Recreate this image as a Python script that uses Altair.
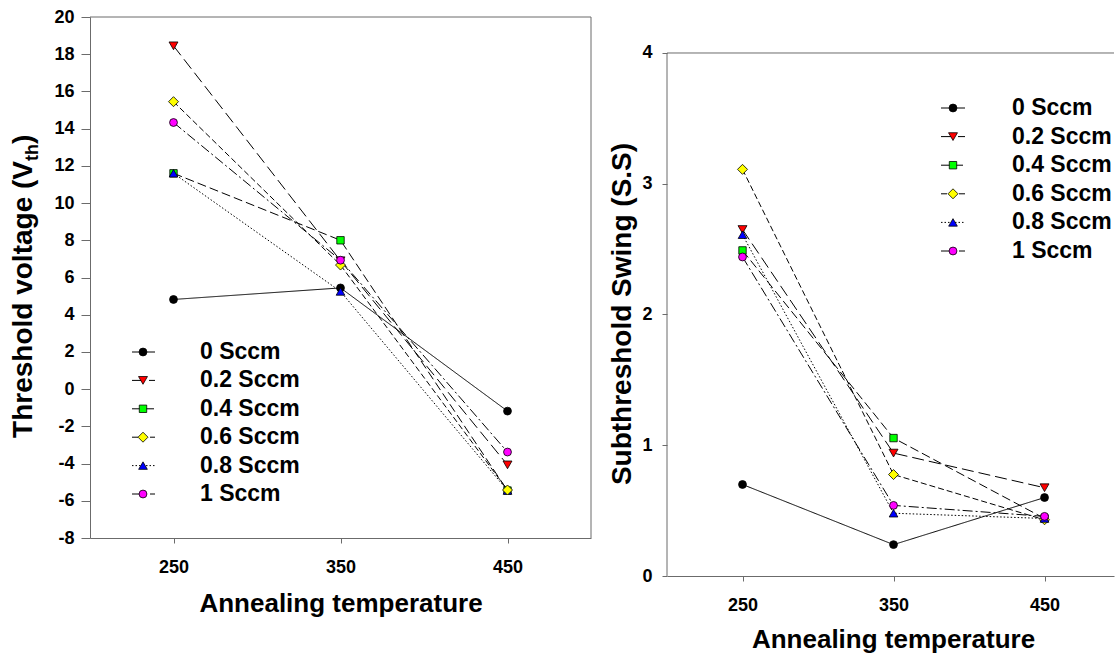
import altair as alt
import pandas as pd

# ---------------- data ----------------
series = ["0 Sccm", "0.2 Sccm", "0.4 Sccm", "0.6 Sccm", "0.8 Sccm", "1 Sccm"]
temps = [250, 350, 450]

vth_0 = [4.82, 5.44, -1.18]
vth_02 = [18.45, 6.9, -4.07]
vth_04 = [11.6, 8.0, -5.45]
vth_06 = [15.45, 6.67, -5.42]
vth_08 = [11.6, 5.25, -5.45]
vth_1 = [14.33, 6.93, -3.38]

ss_0 = [0.70, 0.24, 0.60]
ss_02 = [2.65, 0.94, 0.675]
ss_04 = [2.49, 1.055, 0.44]
ss_06 = [3.11, 0.776, 0.43]
ss_08 = [2.61, 0.48, 0.44]
ss_1 = [2.44, 0.54, 0.456]

vth_ticks = list(range(-8, 21, 2))
ss_ticks = [0, 1, 2, 3, 4]

# ---------------- styles ----------------
fills = ["#000000", "#ff0000", "#00ff00", "#ffff00", "#0000ff", "#ff00ff"]
shapes = ["circle", "triangle-down", "square", "diamond", "triangle-up", "circle"]
sizes = [62, 80, 55, 100, 75, 62]
dashes = [[1, 0], [12, 5], [9, 4], [6, 3], [1.5, 2], [10, 3, 2, 3]]

F = "Liberation Sans"
AX = "#6b6b6b"

vth = [vth_0, vth_02, vth_04, vth_06, vth_08, vth_1]
ss = [ss_0, ss_02, ss_04, ss_06, ss_08, ss_1]
rows = []
for i, s in enumerate(series):
    for j, t in enumerate(temps):
        rows.append({"series": s, "temp": t, "vth": vth[i][j], "ss": ss[i][j], "k": i})
df = pd.DataFrame(rows)
# drawing order of markers on the left panel (yellow diamond on top at 450)
df_l = df.assign(z=[99 if (r.temp == 450 and r.series == "0.6 Sccm") else r.k for r in df.itertuples()])
df_l = df_l.sort_values(["z", "temp"]).reset_index(drop=True)

leg = pd.DataFrame({"series": series, "idx": list(range(len(series)))})
one = pd.DataFrame({"a": [0]})

dash_scale = alt.Scale(domain=series, range=dashes)
fill_scale = alt.Scale(domain=series, range=fills)
shape_scale = alt.Scale(domain=series, range=shapes)
size_scale = alt.Scale(domain=series, range=sizes, type="ordinal")

PT = dict(filled=True, stroke="black", strokeWidth=0.8, opacity=1)


def marker_enc():
    return dict(
        fill=alt.Fill("series:N", scale=fill_scale, legend=None),
        shape=alt.Shape("series:N", scale=shape_scale, legend=None),
        size=alt.Size("series:N", scale=size_scale, legend=None))


def legend_layers(x_rule1, x_rule2, x_sym, x_txt, y0, dy):
    base = alt.Chart(leg).transform_calculate(ly=f"{y0} + datum.idx * {dy}")
    ly = alt.Y("ly:Q", scale=None, axis=None)
    r = base.mark_rule(color="black", strokeWidth=1).encode(
        x=alt.value(x_rule1), x2=alt.value(x_rule2), y=ly,
        strokeDash=alt.StrokeDash("series:N", scale=dash_scale, legend=None))
    p = base.mark_point(**PT).encode(x=alt.value(x_sym), y=ly, **marker_enc())
    t = base.mark_text(align="left", baseline="middle", fontSize=23, fontWeight="bold",
                       font=F, color="black").encode(x=alt.value(x_txt), y=ly, text="series:N")
    return [r, p, t]


def frame_rule(x1, x2, y1, y2):
    return alt.Chart(one).mark_rule(color=AX, strokeWidth=1).encode(
        x=alt.value(x1), x2=alt.value(x2), y=alt.value(y1), y2=alt.value(y2))


title_kw = dict(angle=270, baseline="alphabetic", fontWeight="bold", font=F, color="black")

# ---------------- left panel ----------------
WL, HL = 501, 521
xl = alt.X("temp:Q", scale=alt.Scale(domain=[200, 500], nice=False, zero=False),
           axis=alt.Axis(values=temps, title="Annealing temperature", tickSize=5,
                         labelPadding=15, titlePadding=14, labelExpr="'' + datum.value"))
yl = alt.Y("vth:Q", scale=alt.Scale(domain=[-8, 20], nice=False, zero=False),
           axis=alt.Axis(values=vth_ticks, title=None, tickSize=9, labelPadding=7,
                         labelOverlap=False, labelExpr="'' + datum.value"))

lines_l = alt.Chart(df).mark_line(color="black", strokeWidth=1).encode(
    x=xl, y=yl, strokeDash=alt.StrokeDash("series:N", scale=dash_scale, legend=None))
pts_l = alt.Chart(df_l).mark_point(**PT).encode(x=xl, y=yl, order="z:Q", **marker_enc())

t1 = alt.Chart(one).mark_text(text="Threshold voltage (V", align="right", fontSize=28, **title_kw).encode(
    x=alt.value(-58), y=alt.value(144))
t2 = alt.Chart(one).mark_text(text="th", align="left", fontSize=18, dy=6, **title_kw).encode(
    x=alt.value(-58), y=alt.value(144))
t3 = alt.Chart(one).mark_text(text=")", align="left", fontSize=28, dx=17, **title_kw).encode(
    x=alt.value(-58), y=alt.value(144))

left = alt.layer(lines_l, pts_l,
                 frame_rule(0, WL, 0, 0), frame_rule(WL, WL, 0, HL),
                 t1, t2, t3,
                 *legend_layers(42, 65, 53, 110, 335, 28.4)).properties(width=WL, height=HL)

# ---------------- right panel ----------------
WR, HR = 447, 559
SS_MAX = 4.2753
ytop_r = HR * (1 - ss_ticks[-1] / SS_MAX)
xr = alt.X("temp:Q", scale=alt.Scale(domain=[200, 496], nice=False, zero=False),
           axis=alt.Axis(values=temps, title="Annealing temperature", tickSize=5,
                         labelPadding=15, titlePadding=12, titleX=226,
                         labelExpr="'' + datum.value"))
yr = alt.Y("ss:Q", scale=alt.Scale(domain=[0, SS_MAX], nice=False, zero=False),
           axis=alt.Axis(values=ss_ticks, title=None, tickSize=5, labelPadding=10, domain=False,
                         labelOverlap=False, labelExpr="'' + datum.value"))

lines_r = alt.Chart(df).mark_line(color="black", strokeWidth=1).encode(
    x=xr, y=yr, strokeDash=alt.StrokeDash("series:N", scale=dash_scale, legend=None))
pts_r = alt.Chart(df).mark_point(**PT).encode(x=xr, y=yr, **marker_enc())
tr = alt.Chart(one).mark_text(text="Subthreshold Swing (S.S)", align="center", fontSize=28, **title_kw).encode(
    x=alt.value(-36), y=alt.value(297))

right = alt.layer(lines_r, pts_r,
                  frame_rule(0, 0, ytop_r, HR), frame_rule(0, WR, ytop_r, ytop_r),
                  tr,
                  *legend_layers(274, 298, 286, 345, 91, 28.6)).properties(width=WR, height=HR)

chart = alt.hconcat(left, right, spacing=76, bounds="flush").properties(
    padding={"left": 9, "top": 7, "right": 0, "bottom": 0}
).configure_view(stroke="transparent").configure_axis(
    labelFont=F, labelFontSize=18, labelFontWeight="bold", labelColor="black",
    titleFont=F, titleFontSize=26, titleFontWeight="bold", titleColor="black",
    domainColor=AX, tickColor=AX, grid=False, domainWidth=1, tickWidth=1,
    labelOverlap=False
)

chart.save("out.html", embed_options={"renderer": "svg", "actions": False})
